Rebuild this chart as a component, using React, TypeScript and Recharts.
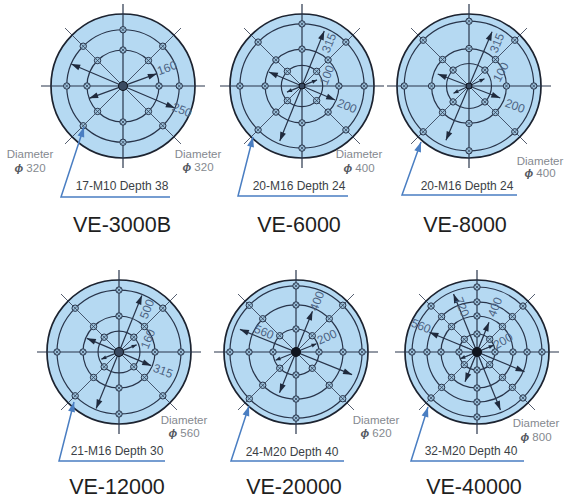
import { ScatterChart, Scatter, XAxis, YAxis } from "recharts";

// bolt patterns, all sizes in mm
const models = ["VE-3000B", "VE-6000", "VE-8000", "VE-12000", "VE-20000", "VE-40000"];
const tableDiameters = [320, 400, 400, 560, 620, 800];
const callouts = [
  "17-M10 Depth 38",
  "20-M16 Depth 24",
  "20-M16 Depth 24",
  "21-M16 Depth 30",
  "24-M20 Depth 40",
  "32-M20 Depth 40",
];
const EVERY_45 = [0, 45, 90, 135, 180, 225, 270, 315];
const DIAGONALS = [45, 135, 225, 315];
const FAN = [22.5, 67.5, 112.5, 157.5, 202.5, 247.5, 292.5, 337.5];

const ringDiameters = [
  [250, 160],
  [345, 205, 115],
  [360, 208, 125],
  [482, 280, 163],
  [569, 405, 198],
  [722, 556, 400, 200],
];
const ringAngles = [
  [EVERY_45, EVERY_45],
  [EVERY_45, EVERY_45, DIAGONALS],
  [EVERY_45, EVERY_45, DIAGONALS],
  [EVERY_45, EVERY_45, DIAGONALS],
  [EVERY_45, EVERY_45, EVERY_45],
  [EVERY_45, EVERY_45, EVERY_45, EVERY_45],
];
const centerHoles = [1, 0, 0, 1, 1, 1];

// dimension arrows: drawn length (mm) and direction (deg)
const arrowLengths = [
  [250, 160],
  [330, 200, 90],
  [328, 186, 95],
  [474, 272, 148],
  [521, 379, 190],
  [572, 696, 356, 200],
];
const arrowAngles = [
  [157, 20],
  [68, 157, 22],
  [67, 159, 25],
  [68, 157, 22],
  [158, 68, 22],
  [157.5, 112, 68, 22],
];
const arrowLabels = [
  ["250", "160"],
  ["315", "200", "100"],
  ["315", "200", "100"],
  ["500", "315", "160"],
  ["560", "400", "200"],
  ["560", "720", "400", "200"],
];

// page layout in pixels
const CHART_HALF = 160;
const TABLE_PX = 72;
const GUIDE_PX = 82;
const centers = [
  [123, 86],
  [302, 86],
  [469, 86],
  [119, 352],
  [296, 352],
  [477, 352],
];
const labelSpots = [
  [[182, 110, 22], [167, 68, -20]],
  [[329, 43, -68], [347, 106, 22], [327, 75, -68]],
  [[497, 43, -68], [515, 106, 20], [501, 72, -62]],
  [[147, 309, -68], [163, 371, 20], [148, 339, -68]],
  [[264, 332, 22], [317, 301, -68], [327, 337, -25]],
  [[421, 326, 22], [462, 307, 68], [495, 307, -68], [503, 341, -30]],
];
const leaders = [
  [[84, 127], [61, 197], [170, 197]],
  [[253, 137], [238, 196], [348, 196]],
  [[421, 142], [402, 195], [517, 195]],
  [[74, 402], [59, 461], [165, 461]],
  [[249, 406], [231, 461], [344, 461]],
  [[428, 407], [411, 461], [524, 461]],
];
const calloutSpots = [
  [122, 190],
  [299, 190],
  [467, 190],
  [117, 455],
  [292, 456],
  [471, 455],
];
const titleSpots = [
  [122, 232],
  [299, 232],
  [465, 232],
  [117, 494],
  [294, 494],
  [474, 494],
];
const diameterSpots = [
  [[30, 158, 172], [198, 158, 171]],
  [[359, 158, 172]],
  [[540, 165, 177]],
  [[184, 424, 437]],
  [[376, 424, 437]],
  [[536, 427, 441]],
];

const INK = "#28344a";
const DIM_TEXT = "#4d6484";
const GREY_TEXT = "#85898f";
const BLUE = "#4a7ec2";
const FONT = "'Liberation Sans', Arial, sans-serif";

const polar = (d: number, deg: number) => ({
  x: (d / 2) * Math.cos((deg * Math.PI) / 180),
  y: (d / 2) * Math.sin((deg * Math.PI) / 180),
});

const NoDot = () => <g />;

function Segment({ points, color = INK, width = 1 }: any) {
  return (
    <Scatter
      data={points}
      line={{ stroke: color, strokeWidth: width }}
      shape={NoDot}
      isAnimationActive={false}
    />
  );
}

function BoltPanel({ index }: { index: number }) {
  const table = tableDiameters[index];
  const [cx, cy] = centers[index];
  const pxPerMm = TABLE_PX / (table / 2);
  const half = CHART_HALF / pxPerMm;
  const fromPage = (px: number, py: number) => ({ x: (px - cx) / pxPerMm, y: (cy - py) / pxPerMm });
  const guideD = (2 * GUIDE_PX) / pxPerMm;

  const bolts = ringDiameters[index].flatMap((d, r) => ringAngles[index][r].map((a) => polar(d, a)));
  const arrows = arrowLengths[index].map((len, i) => ({ len, angle: arrowAngles[index][i] }));
  const heads = arrows.flatMap((a) => {
    const big = (a.len / 2) * pxPerMm >= 30;
    return [
      { ...polar(a.len, a.angle), angle: a.angle, big },
      { ...polar(a.len, a.angle + 180), angle: a.angle + 180, big },
    ];
  });
  const leader = leaders[index].map(([px, py]) => fromPage(px, py));
  const tip = leader[0];
  const leaderAngle =
    (Math.atan2(tip.y - leader[1].y, tip.x - leader[1].x) * 180) / Math.PI;

  const texts: any[] = [];
  arrowLabels[index].forEach((text, i) => {
    const [px, py, rotate] = labelSpots[index][i];
    texts.push({ ...fromPage(px, py), text, size: 12, color: DIM_TEXT, rotate, central: true });
  });
  diameterSpots[index].forEach(([px, py1, py2]) => {
    texts.push({ ...fromPage(px, py1), text: "Diameter", size: 11.5, color: GREY_TEXT });
    texts.push({ ...fromPage(px, py2), text: `${table}`, phi: true, size: 11.5, color: GREY_TEXT });
  });
  const [calloutX, calloutY] = calloutSpots[index];
  texts.push({ ...fromPage(calloutX, calloutY), text: callouts[index], size: 12, color: "#3b3f46" });
  const [titleX, titleY] = titleSpots[index];
  texts.push({ ...fromPage(titleX, titleY), text: models[index], size: 21.5, color: "#1f1f1f" });

  return (
    <div style={{ position: "absolute", left: cx - CHART_HALF, top: cy - CHART_HALF }}>
      <ScatterChart
        width={CHART_HALF * 2}
        height={CHART_HALF * 2}
        margin={{ top: 0, right: 0, bottom: 0, left: 0 }}
      >
        <XAxis type="number" dataKey="x" domain={[-half, half]} hide />
        <YAxis type="number" dataKey="y" domain={[-half, half]} hide />

        <Scatter
          data={[{ x: 0, y: 0 }]}
          isAnimationActive={false}
          shape={(p: any) => (
            <circle cx={p.cx} cy={p.cy} r={(table / 2) * pxPerMm} fill="#b5d9f2" stroke="#1c2330" strokeWidth={1.7} />
          )}
        />
        {ringDiameters[index].map((d) => (
          <Scatter
            key={`ring-${d}`}
            data={[{ x: 0, y: 0 }]}
            isAnimationActive={false}
            shape={(p: any) => (
              <circle cx={p.cx} cy={p.cy} r={(d / 2) * pxPerMm} fill="none" stroke={INK} strokeWidth={1.2} />
            )}
          />
        ))}
        {EVERY_45.map((a) =>
          Segment({
            points: [polar(guideD, a), { x: 0, y: 0 }],
            width: a % 90 === 0 ? 1.2 : 0.8,
          })
        ).map((el, i) => ({ ...el, key: `guide-${i}` }))}
        {index === 5 &&
          FAN.map((a) =>
            Segment({
              points: [polar(ringDiameters[5][3], a), { x: 0, y: 0 }],
              width: 0.5,
            })
          ).map((el, i) => ({ ...el, key: `fan-${i}` }))}
        {arrows
          .map((a) =>
            Segment({
              points: [polar(a.len, a.angle), polar(a.len, a.angle + 180)],
              width: 1.2,
            })
          )
          .map((el, i) => ({ ...el, key: `arrow-${i}` }))}
        <Scatter
          data={bolts}
          isAnimationActive={false}
          shape={(p: any) => (
            <g transform={`translate(${p.cx} ${p.cy})`}>
              <circle r={3.2} fill="#9cc2dc" stroke={INK} strokeWidth={1} />
              <path d="M-1.8 -1.8L1.8 1.8M-1.8 1.8L1.8 -1.8" stroke={INK} strokeWidth={0.7} />
            </g>
          )}
        />
        <Scatter
          data={heads}
          isAnimationActive={false}
          shape={(p: any) => (
            <polygon
              points={p.payload.big ? "0,0 -9,-3 -9,3" : "0,0 -5,-2 -5,2"}
              fill="#1f2a3d"
              transform={`translate(${p.cx} ${p.cy}) rotate(${-p.payload.angle})`}
            />
          )}
        />
        <Scatter
          data={[{ x: 0, y: 0 }]}
          isAnimationActive={false}
          shape={(p: any) => (
            <circle
              cx={p.cx}
              cy={p.cy}
              r={centerHoles[index] ? 4.5 : 3}
              fill={index >= 4 ? "#10151f" : "#3a4a61"}
              stroke="#10151f"
              strokeWidth={1}
            />
          )}
        />

        {Segment({ points: leader, color: BLUE, width: 1.5 })}
        <Scatter
          data={[{ ...tip, angle: leaderAngle }]}
          isAnimationActive={false}
          shape={(p: any) => (
            <polygon
              points="0,0 -10,-3.5 -10,3.5"
              fill={BLUE}
              transform={`translate(${p.cx} ${p.cy}) rotate(${-p.payload.angle})`}
            />
          )}
        />
        <Scatter
          data={texts}
          isAnimationActive={false}
          shape={(p: any) => {
            const t = p.payload;
            return (
              <text
                x={p.cx}
                y={p.cy}
                textAnchor="middle"
                dominantBaseline={t.central ? "central" : undefined}
                fontFamily={FONT}
                fontSize={t.size}
                fill={t.color}
                transform={t.rotate ? `rotate(${t.rotate} ${p.cx} ${p.cy})` : undefined}
              >
                {t.phi && (
                  <tspan fontStyle="italic" fontWeight="bold" fill="#55595f">
                    {"\u03d5 "}
                  </tspan>
                )}
                {t.text}
              </text>
            );
          }}
        />
      </ScatterChart>
    </div>
  );
}

export default function App() {
  return (
    <div
      style={{
        position: "absolute",
        left: 0,
        top: 0,
        width: 564,
        height: 499,
        overflow: "hidden",
        background: "#fff",
      }}
    >
      {models.map((m, i) => (
        <BoltPanel key={m} index={i} />
      ))}
    </div>
  );
}
